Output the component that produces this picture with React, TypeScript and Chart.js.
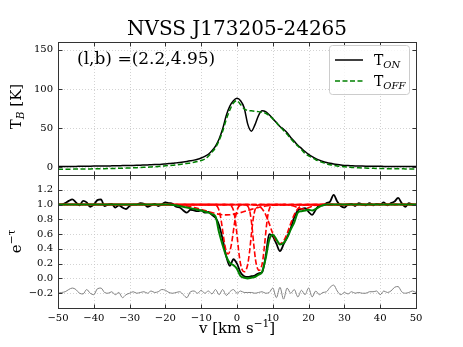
import { useEffect, useRef } from 'react';
import { Chart, registerables } from 'chart.js';

Chart.register(...registerables);

const SERIF = "'DejaVu Serif', 'Liberation Serif', serif";

// Velocity sampling grid (km/s)
const VELOCITY = Array.from({ length: 101 }, (_, i) => i - 50);

// Brightness temperatures (K), v = -50 .. 50
const T_ON = [
  0.8, 0.8, 0.9, 0.9, 1.0, 1.0, 1.1, 1.2, 1.2, 1.3,
  1.4, 1.5, 1.5, 1.6, 1.6, 1.7, 1.8, 1.9, 2.0, 2.1,
  2.2, 2.3, 2.4, 2.5, 2.7, 2.9, 3.1, 3.3, 3.5, 3.8,
  4.2, 4.6, 5.0, 5.5, 6.0, 6.6, 7.3, 8.1, 9.0, 10.2,
  11.8, 13.8, 16.5, 21, 27, 36, 49, 66, 78, 85,
  88, 85, 76, 55, 46, 54, 66, 72, 71, 67,
  62, 57, 52, 48.5, 44, 38, 33, 28, 24, 20,
  16.5, 13.5, 11, 9, 7.3, 6, 4.9, 4.0, 3.3, 2.7,
  2.3, 2.0, 1.8, 1.6, 1.5, 1.4, 1.3, 1.2, 1.2, 1.1,
  1.1, 1.0, 1.0, 1.0, 1.0, 0.9, 0.9, 0.9, 0.9, 0.9,
  0.9,
];
const T_OFF = [
  -2.6, -2.6, -2.5, -2.5, -2.5, -2.4, -2.4, -2.3, -2.3, -2.2,
  -2.1, -2.0, -2.0, -1.9, -1.8, -1.7, -1.6, -1.5, -1.3, -1.2,
  -1.0, -0.8, -0.6, -0.4, -0.2, 0.0, 0.3, 0.6, 0.9, 1.3,
  1.7, 2.1, 2.5, 3.0, 3.5, 4.1, 4.8, 5.5, 6.4, 7.4,
  8.6, 10.2, 14, 19, 25, 34, 46, 61, 73, 82,
  85, 80, 74.5, 72.5, 72, 71.5, 71, 70, 69, 66,
  62, 57, 52, 47, 42, 36.5, 31.5, 27, 22.5, 17.5,
  14.5, 12, 9.5, 7.5, 5.8, 4.4, 3.2, 2.3, 1.5, 0.9,
  0.4, 0.0, -0.3, -0.6, -0.8, -1.0, -1.2, -1.4, -1.5, -1.6,
  -1.7, -1.8, -1.9, -2.0, -2.0, -2.1, -2.1, -2.2, -2.2, -2.3,
  -2.3,
];

// Absorption spectrum e^-tau, v = -50 .. 50
const EXP_TAU = [
  1.00, 1.00, 1.02, 1.05, 1.07, 1.03, 0.99, 1.05, 1.03, 0.97,
  1.00, 1.06, 1.07, 0.98, 1.00, 1.01, 0.96, 0.99, 0.96, 0.94,
  0.98, 1.00, 1.00, 1.02, 1.01, 0.97, 0.99, 1.01, 0.98, 1.00,
  1.03, 1.02, 1.01, 0.97, 0.96, 0.92, 0.89, 0.93, 0.92, 0.91,
  0.92, 0.89, 0.90, 0.86, 0.82, 0.72, 0.53, 0.30, 0.17, 0.26,
  0.20, 0.08, 0.03, 0.02, 0.03, 0.04, 0.07, 0.08, 0.30, 0.60,
  0.57, 0.47, 0.37, 0.46, 0.56, 0.68, 0.83, 0.92, 0.94, 0.95,
  0.90, 0.86, 0.93, 0.99, 0.99, 1.02, 1.04, 1.13, 1.04, 0.98,
  0.96, 1.00, 1.01, 0.98, 1.02, 1.00, 0.99, 1.02, 0.99, 1.01,
  1.00, 1.03, 0.99, 1.02, 1.04, 1.09, 1.02, 0.97, 1.02, 1.00,
  1.00,
];
const EXP_TAU_FIT = [
  1.00, 1.00, 1.00, 1.00, 1.00, 1.00, 1.00, 1.00, 1.00, 1.00,
  1.00, 1.00, 1.00, 1.00, 1.00, 1.00, 1.00, 1.00, 1.00, 1.00,
  1.00, 1.00, 1.00, 1.00, 1.00, 1.00, 1.00, 1.00, 1.00, 1.00,
  1.00, 1.00, 0.995, 0.99, 0.98, 0.97, 0.96, 0.95, 0.94, 0.93,
  0.92, 0.905, 0.89, 0.87, 0.84, 0.62, 0.45, 0.30, 0.21, 0.18,
  0.13, 0.03, 0.01, 0.00, 0.01, 0.02, 0.05, 0.09, 0.27, 0.52,
  0.59, 0.53, 0.46, 0.48, 0.55, 0.66, 0.76, 0.89, 0.91, 0.92,
  0.93, 0.92, 0.94, 0.97, 0.99, 1.00, 1.00, 1.00, 1.00, 1.00,
  1.00, 1.00, 1.00, 1.00, 1.00, 1.00, 1.00, 1.00, 1.00, 1.00,
  1.00, 1.00, 1.00, 1.00, 1.00, 1.00, 1.00, 1.00, 1.00, 1.00,
  1.00,
];
const RESIDUAL = [
  -0.20, -0.19, -0.18, -0.15, -0.13, -0.15, -0.20, -0.21, -0.15, -0.20,
  -0.22, -0.14, -0.13, -0.19, -0.20, -0.18, -0.22, -0.19, -0.26, -0.22,
  -0.20, -0.18, -0.20, -0.19, -0.18, -0.20, -0.17, -0.19, -0.18, -0.15,
  -0.16, -0.19, -0.20, -0.19, -0.18, -0.22, -0.26, -0.18, -0.17, -0.20,
  -0.16, -0.20, -0.17, -0.21, -0.15, -0.22, -0.15, -0.23, -0.18, -0.15,
  -0.20, -0.17, -0.19, -0.19, -0.19, -0.20, -0.19, -0.18, -0.20, -0.19,
  -0.13, -0.26, -0.12, -0.28, -0.13, -0.20, -0.15, -0.25, -0.16, -0.22,
  -0.13, -0.25, -0.17, -0.22, -0.19, -0.18, -0.12, -0.09, -0.17, -0.22,
  -0.19, -0.21, -0.18, -0.20, -0.19, -0.20, -0.20, -0.18, -0.18, -0.17,
  -0.22, -0.17, -0.19, -0.17, -0.12, -0.11, -0.18, -0.20, -0.19, -0.17,
  -0.19,
];

// Individual Gaussian components (e^-tau_i), velocity / value pairs
const COMP1_V = [-50, -18, -16, -14, -12, -10, -8, -6, -4, -3, -2, 0, 2, 4, 6, 8, 10, 12, 50];
const COMP1_E = [1, 0.996, 0.991, 0.98, 0.961, 0.935, 0.905, 0.878, 0.862, 0.86, 0.862, 0.878, 0.905, 0.935, 0.961, 0.98, 0.991, 0.996, 1];
const COMP2_V = [-50, -6.5, -6, -5.5, -5, -4.5, -4, -3.5, -3, -2.5, -2, -1.5, -1, -0.5, 0, 0.5, 1, 1.5, 50];
const COMP2_E = [1, 0.9985, 0.993, 0.973, 0.92, 0.809, 0.645, 0.48, 0.368, 0.33, 0.368, 0.48, 0.645, 0.809, 0.92, 0.973, 0.993, 0.9985, 1];
const COMP3_V = [-50, -2.5, -2, -1.5, -1, -0.5, 0, 0.5, 1, 1.5, 2, 2.5, 3, 3.5, 4, 4.5, 5, 5.5, 6, 6.5, 50];
const COMP3_E = [1, 0.999, 0.994, 0.977, 0.923, 0.797, 0.588, 0.358, 0.192, 0.112, 0.09, 0.112, 0.192, 0.358, 0.588, 0.797, 0.923, 0.977, 0.994, 0.999, 1];
const COMP4_V = [-50, 2.2, 2.7, 3.2, 3.7, 4.2, 4.7, 5.2, 5.7, 6.2, 6.7, 7.2, 7.7, 8.2, 8.7, 9.2, 9.7, 10.2, 50];
const COMP4_E = [1, 0.9985, 0.9915, 0.963, 0.878, 0.698, 0.452, 0.246, 0.139, 0.11, 0.139, 0.246, 0.452, 0.698, 0.878, 0.963, 0.9915, 0.9985, 1];
const COMP5_V = [-50, 4, 5, 6, 7, 8, 9, 10, 11, 12, 13, 14, 15, 16, 17, 18, 19, 20, 50];
const COMP5_E = [1, 0.999, 0.995, 0.982, 0.944, 0.865, 0.742, 0.607, 0.506, 0.47, 0.506, 0.607, 0.742, 0.865, 0.944, 0.982, 0.995, 0.999, 1];
const COMP6_V = [-50, 13.5, 14.5, 15.5, 16.5, 17.5, 18.5, 19.5, 20.5, 21.5, 22.5, 23.5, 50];
const COMP6_E = [1, 0.999, 0.995, 0.985, 0.967, 0.948, 0.94, 0.948, 0.967, 0.985, 0.995, 0.999, 1];

const X_TICKS = [-50, -40, -30, -20, -10, 0, 10, 20, 30, 40, 50];
const TB_TICKS = [0, 50, 100, 150];
const TAU_TICKS = [-0.2, 0.0, 0.2, 0.4, 0.6, 0.8, 1.0, 1.2];

const TITLE = 'NVSS J173205-24265';
const ANNOTATION = '(l,b) =(2.2,4.95)';

type Run = { text: string; size: number; italic?: boolean; dy?: number };

function fontOf(r: Run) {
  return `${r.italic ? 'italic ' : ''}${r.size}px ${SERIF}`;
}
function runsWidth(ctx: CanvasRenderingContext2D, runs: Run[]) {
  let w = 0;
  for (const r of runs) {
    ctx.font = fontOf(r);
    w += ctx.measureText(r.text).width;
  }
  return w;
}
function drawRuns(ctx: CanvasRenderingContext2D, runs: Run[], x: number, y: number, align: 'left' | 'center') {
  const w = runsWidth(ctx, runs);
  let cx = align === 'center' ? x - w / 2 : x;
  ctx.textAlign = 'left';
  ctx.textBaseline = 'alphabetic';
  for (const r of runs) {
    ctx.font = fontOf(r);
    ctx.fillText(r.text, cx, y + (r.dy || 0));
    cx += ctx.measureText(r.text).width;
  }
}

function pts(xs: number[], ys: number[]) {
  return xs.map((x, i) => ({ x, y: ys[i] }));
}

function fmt(v: number, dec: number) {
  const s = dec ? v.toFixed(dec) : String(Math.round(v));
  return s.replace('-', '\u2212');
}

const decor = {
  id: 'decor',
  beforeDatasetsDraw(chart: any) {
    const ctx: CanvasRenderingContext2D = chart.ctx;
    const { left, right } = chart.chartArea;
    const sx = chart.scales.x, yT = chart.scales.yT, yB = chart.scales.yB;
    ctx.save();
    ctx.strokeStyle = '#c8c8c8';
    ctx.lineWidth = 0.8;
    ctx.setLineDash([1, 2]);
    ctx.beginPath();
    for (const v of X_TICKS) {
      const px = Math.round(sx.getPixelForValue(v)) + 0.5;
      ctx.moveTo(px, yT.top);
      ctx.lineTo(px, yB.bottom);
    }
    for (const v of TB_TICKS) {
      const py = Math.round(yT.getPixelForValue(v)) + 0.5;
      ctx.moveTo(left, py);
      ctx.lineTo(right, py);
    }
    for (const v of TAU_TICKS) {
      const py = Math.round(yB.getPixelForValue(v)) + 0.5;
      ctx.moveTo(left, py);
      ctx.lineTo(right, py);
    }
    ctx.stroke();
    ctx.restore();
  },
  afterDatasetsDraw(chart: any) {
    const ctx: CanvasRenderingContext2D = chart.ctx;
    const { left, right } = chart.chartArea;
    const sx = chart.scales.x, yT = chart.scales.yT, yB = chart.scales.yB;
    const L = Math.round(left) + 0.5, R = Math.round(right) + 0.5;
    ctx.save();
    ctx.strokeStyle = '#333333';
    ctx.lineWidth = 1;
    ctx.setLineDash([]);
    const TL = 4;
    for (const [sc, ticks] of [[yT, TB_TICKS], [yB, TAU_TICKS]] as any) {
      const T = Math.round(sc.top) + 0.5, B = Math.round(sc.bottom) + 0.5;
      ctx.strokeRect(L, T, R - L, B - T);
      ctx.beginPath();
      for (const v of X_TICKS) {
        const px = Math.round(sx.getPixelForValue(v)) + 0.5;
        ctx.moveTo(px, B); ctx.lineTo(px, B - TL);
        ctx.moveTo(px, T); ctx.lineTo(px, T + TL);
      }
      for (const v of ticks) {
        const py = Math.round(sc.getPixelForValue(v)) + 0.5;
        ctx.moveTo(L, py); ctx.lineTo(L + TL, py);
        ctx.moveTo(R, py); ctx.lineTo(R - TL, py);
      }
      ctx.stroke();
    }

    // Legend
    const lx = right - 87, ly = yT.top + 3, lw = 80, lh = 49;
    ctx.beginPath();
    (ctx as any).roundRect(lx + 0.5, ly + 0.5, lw, lh, 3);
    ctx.fillStyle = 'rgba(255,255,255,0.8)';
    ctx.fill();
    ctx.strokeStyle = '#cccccc';
    ctx.stroke();
    ctx.lineWidth = 1.5;
    ctx.strokeStyle = '#000000';
    ctx.beginPath();
    ctx.moveTo(lx + 6, ly + 15); ctx.lineTo(lx + 34, ly + 15);
    ctx.stroke();
    ctx.strokeStyle = '#008000';
    ctx.setLineDash([5, 2.5]);
    ctx.beginPath();
    ctx.moveTo(lx + 6, ly + 36); ctx.lineTo(lx + 34, ly + 36);
    ctx.stroke();
    ctx.setLineDash([]);
    ctx.fillStyle = '#000000';
    drawRuns(ctx, [{ text: 'T', size: 14 }, { text: 'ON', size: 10, italic: true, dy: 3 }], lx + 45, ly + 20, 'left');
    drawRuns(ctx, [{ text: 'T', size: 14 }, { text: 'OFF', size: 10, italic: true, dy: 3 }], lx + 45, ly + 41, 'left');

    // Annotation
    drawRuns(ctx, [{ text: ANNOTATION, size: 17 }], left + 19, yT.top + 22, 'left');

    // Title
    drawRuns(ctx, [{ text: TITLE, size: 20 }], (left + right) / 2, 35, 'center');

    // X label
    drawRuns(ctx, [
      { text: 'v [km s', size: 15 },
      { text: '\u22121', size: 10.5, dy: -6 },
      { text: ']', size: 15 },
    ], (left + right) / 2, 333, 'center');

    // Y labels (rotated)
    const yLabel = (runs: Run[], cy: number) => {
      ctx.save();
      ctx.translate(21, cy);
      ctx.rotate(-Math.PI / 2);
      drawRuns(ctx, runs, 0, 0, 'center');
      ctx.restore();
    };
    yLabel([{ text: 'T', size: 15 }, { text: 'B', size: 10.5, italic: true, dy: 3 }, { text: ' [K]', size: 15 }], (yT.top + yT.bottom) / 2 - 2);
    yLabel([{ text: 'e', size: 15 }, { text: '\u2212\u03c4', size: 10.5, dy: -6 }], (yB.top + yB.bottom) / 2);
    ctx.restore();
  },
};

export default function App() {
  const ref = useRef<HTMLCanvasElement | null>(null);
  useEffect(() => {
    if (!ref.current) return;
    const line = (data: any, color: string, width: number, axis: string, order: number, extra: any = {}) => ({
      data, borderColor: color, borderWidth: width, yAxisID: axis, order,
      pointRadius: 0, fill: false, cubicInterpolationMode: 'monotone', ...extra,
    });
    const comps = [
      [COMP1_V, COMP1_E], [COMP2_V, COMP2_E], [COMP3_V, COMP3_E],
      [COMP4_V, COMP4_E], [COMP5_V, COMP5_E], [COMP6_V, COMP6_E],
    ];
    const tickFont = { family: SERIF, size: 10 };
    const chart = new Chart(ref.current, {
      type: 'line',
      data: {
        datasets: [
          line(pts(VELOCITY, T_ON), '#000000', 1.5, 'yT', 2),
          line(pts(VELOCITY, T_OFF), '#008000', 1.5, 'yT', 1, { borderDash: [5, 2.5] }),
          line(pts(VELOCITY, EXP_TAU), '#000000', 1.8, 'yB', 4),
          line(pts(VELOCITY, RESIDUAL), '#808080', 1, 'yB', 5),
          ...comps.map((c, i) => line(pts(c[0], c[1]), '#ff0000', 1.6, 'yB', 3, { borderDash: [5.5, 2.5], borderDashOffset: i * 1.3 })),
          line(pts(VELOCITY, EXP_TAU_FIT), '#008000', 2, 'yB', 0),
        ] as any,
      },
      options: {
        responsive: false,
        maintainAspectRatio: false,
        animation: false,
        devicePixelRatio: 1,
        events: [],
        layout: { padding: { top: 42, right: 47, bottom: 0, left: 0 } },
        plugins: { legend: { display: false }, tooltip: { enabled: false }, title: { display: false } },
        scales: {
          x: {
            type: 'linear', min: -50, max: 50, position: 'bottom',
            afterBuildTicks: (s: any) => { s.ticks = X_TICKS.map((v) => ({ value: v })); },
            afterFit: (s: any) => { s.height = 39; },
            grid: { display: false, drawTicks: false },
            border: { display: false },
            ticks: { font: tickFont, color: '#000', padding: 4, maxRotation: 0, autoSkip: false, callback: (v: any) => fmt(Number(v), 0) },
          },
          yB: {
            type: 'linear', position: 'left', stack: 'panels', stackWeight: 1, min: -0.4, max: 1.4,
            afterBuildTicks: (s: any) => { s.ticks = TAU_TICKS.map((v) => ({ value: v })); },
            afterFit: (s: any) => { s.width = 58; },
            grid: { display: false, drawTicks: false },
            border: { display: false },
            ticks: { font: tickFont, color: '#000', padding: 5, autoSkip: false, callback: (v: any) => fmt(Number(v), 1) },
          },
          yT: {
            type: 'linear', position: 'left', stack: 'panels', stackWeight: 1, min: -10, max: 160,
            afterBuildTicks: (s: any) => { s.ticks = TB_TICKS.map((v) => ({ value: v })); },
            afterFit: (s: any) => { s.width = 58; },
            grid: { display: false, drawTicks: false },
            border: { display: false },
            ticks: { font: tickFont, color: '#000', padding: 5, autoSkip: false, callback: (v: any) => fmt(Number(v), 0) },
          },
        } as any,
      },
      plugins: [decor as any],
    });
    return () => chart.destroy();
  }, []);
  return (
    <div style={{ position: 'fixed', left: 0, top: 0, width: 463, height: 347, background: '#ffffff' }}>
      <canvas ref={ref} width={463} height={347} style={{ display: 'block', width: 463, height: 347 }} />
    </div>
  );
}
